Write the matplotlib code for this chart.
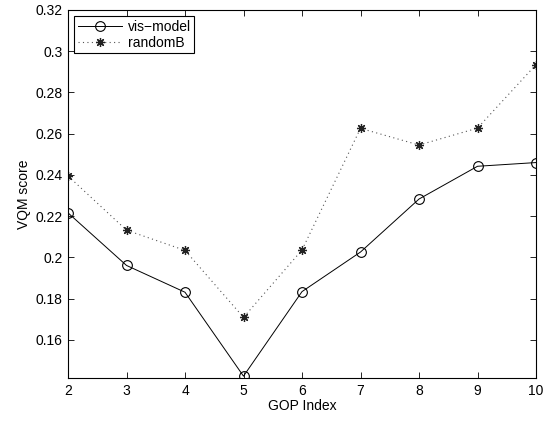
import matplotlib
matplotlib.use("Agg")
import matplotlib.pyplot as plt
from matplotlib.ticker import FuncFormatter

gop_index = [2, 3, 4, 5, 6, 7, 8, 9, 10]
vis_model = [0.2216, 0.1961, 0.1831, 0.1424, 0.1834, 0.2026, 0.2283, 0.2442, 0.2460]
random_b = [0.2395, 0.2132, 0.2034, 0.1709, 0.2036, 0.2626, 0.2545, 0.2627, 0.2935]
y_ticks = [0.16, 0.18, 0.20, 0.22, 0.24, 0.26, 0.28, 0.30, 0.32]
x_ticks = [2, 3, 4, 5, 6, 7, 8, 9, 10]

plt.rcParams['font.family'] = ['Liberation Sans', 'DejaVu Sans']
fs = 10
plt.rcParams['font.size'] = fs

fig = plt.figure(figsize=(5.52, 4.21), dpi=100)
ax = fig.add_axes([68/552, 1-378/421, (536-68)/552, (378-10)/421])

ax.plot(gop_index, vis_model, color='black', linewidth=0.7, marker='o',
        markersize=7, markerfacecolor='none', markeredgecolor='black',
        markeredgewidth=0.8, label='vis\u2212model')
ax.plot(gop_index, random_b, color='#555555', linewidth=0.8, linestyle=(0, (1, 3)),
        marker=(8, 2, 0), markersize=6.5, markeredgecolor='#222222',
        markeredgewidth=0.9, label='randomB')

ax.set_xlim(2, 10)
ax.set_ylim(0.1415, 0.32)
ax.set_xticks(x_ticks)
ax.set_yticks(y_ticks)
ax.yaxis.set_major_formatter(FuncFormatter(lambda v, p: f"{v:g}"))
ax.tick_params(direction='in', top=True, right=True, length=4, width=0.6,
               labelsize=fs, pad=4)
for s in ax.spines.values():
    s.set_linewidth(0.8)

ax.set_xlabel('GOP Index', fontsize=fs, labelpad=1)
ax.set_ylabel('VQM score', fontsize=fs, labelpad=3)

leg = ax.legend(loc='upper left', fontsize=fs, frameon=True, fancybox=False,
                edgecolor='black', framealpha=1, borderaxespad=0.45,
                handlelength=3.2, handletextpad=0.4, borderpad=0.25,
                labelspacing=0.15)
leg.get_frame().set_linewidth(0.8)

fig.savefig('out.png', dpi=100)
